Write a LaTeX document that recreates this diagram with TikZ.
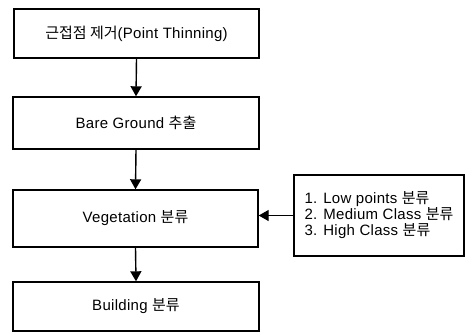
\documentclass[tikz,border=0pt]{standalone}
\usepackage{fontspec}
\setmainfont[LetterSpace=2]{Liberation Sans}
\newfontfamily\cjk{Noto Sans CJK KR}
\usetikzlibrary{arrows.meta}
\begin{document}
\begin{tikzpicture}[x=1pt,y=1pt,
  stepbox/.style={draw,line width=1.4pt,minimum width=245pt,inner sep=0pt,font=\fontsize{15}{16}\selectfont},
  arr/.style={line width=1.4pt,-{Triangle[length=10pt,width=11pt]}}]
\useasboundingbox (0,0) rectangle (465,-332);
\node[stepbox,minimum height=49pt] (a) at (136.5,-33.5) {{\cjk 근접점 제거}(Point Thinning)};
\node[stepbox,minimum height=52pt,minimum width=246pt] (b) at (136,-123) {Bare Ground {\cjk 추출}};
\node[stepbox,minimum height=57pt] (c) at (135.5,-218.5) {Vegetation {\cjk 분류}};
\node[stepbox,minimum height=49pt,minimum width=246pt] (d) at (136,-306.5) {Building {\cjk 분류}};
\node[draw,line width=1.4pt,minimum width=170pt,minimum height=81pt,inner sep=0pt,align=left,font=\fontsize{15}{16}\selectfont] (r) at (379,-215.5)
  {1. Low points {\cjk 분류}\\2. Medium Class {\cjk 분류}\\3. High Class {\cjk 분류}};
\draw[arr] (a.south) -- (b.north);
\draw[arr] (b.south) -- (c.north);
\draw[arr] (c.south) -- (d.north);
\draw[arr] (r.west) -- (c.east |- r.west);
\end{tikzpicture}
\end{document}
